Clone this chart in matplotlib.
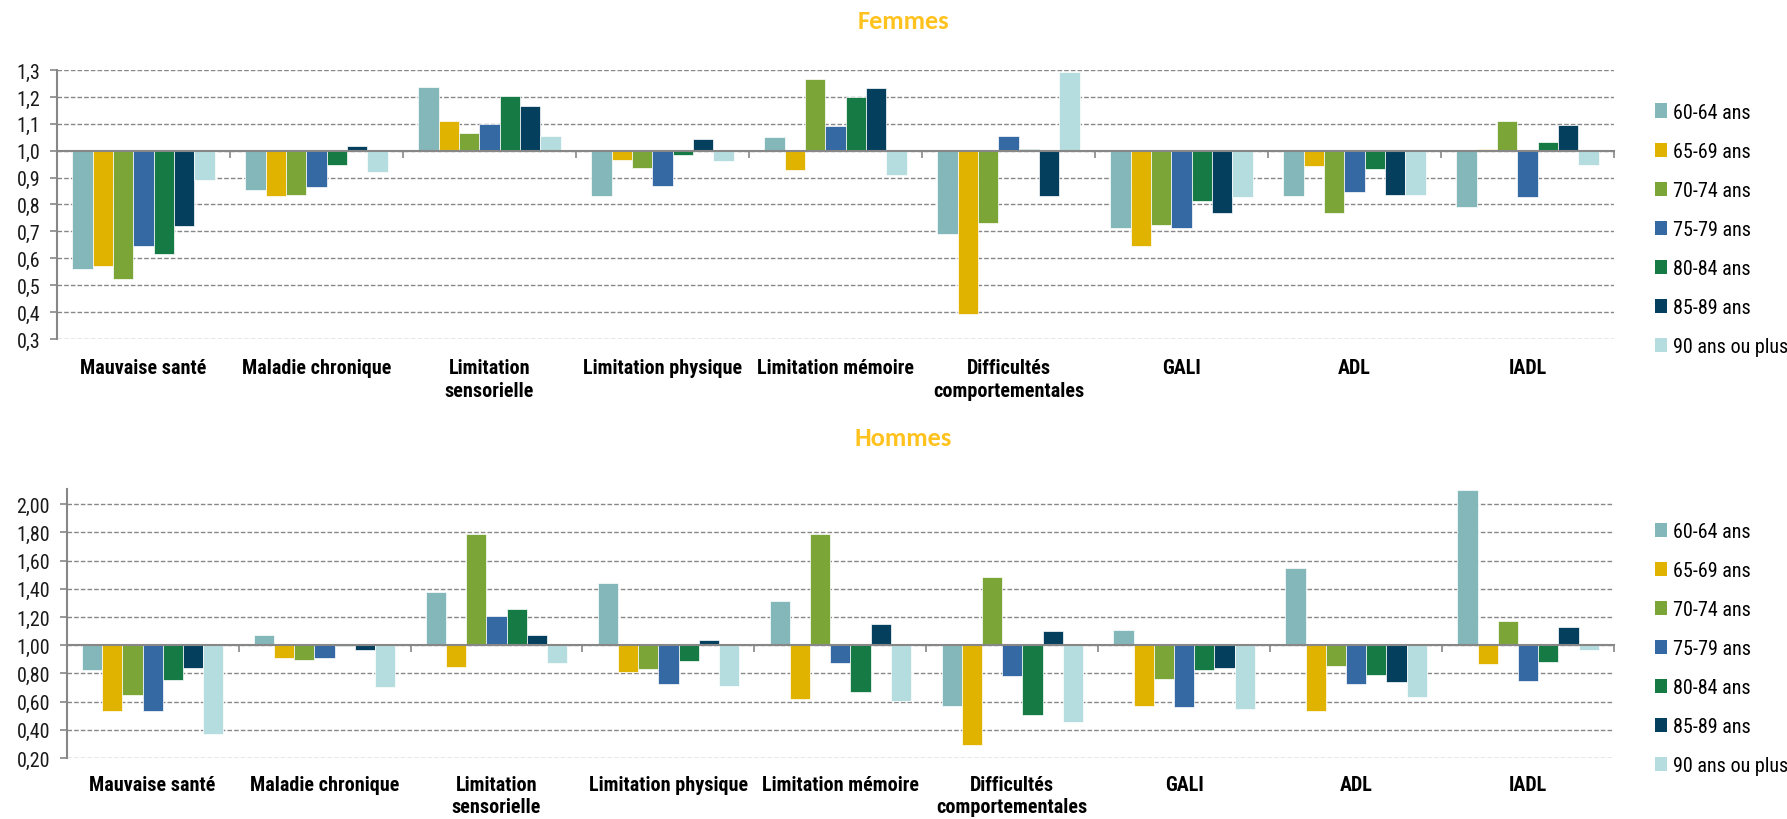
import numpy as np
import matplotlib.pyplot as plt
from matplotlib.patches import Patch
from matplotlib.ticker import FuncFormatter
from matplotlib import transforms

plt.rcParams['font.family'] = ['Roboto Condensed', 'Liberation Sans', 'DejaVu Sans']

categories = ['Mauvaise santé', 'Maladie chronique', 'Limitation\nsensorielle',
              'Limitation physique', 'Limitation mémoire', 'Difficultés\ncomportementales',
              'GALI', 'ADL', 'IADL']
ages = ['60-64 ans', '65-69 ans', '70-74 ans', '75-79 ans', '80-84 ans', '85-89 ans', '90 ans ou plus']
colors = ['#84b7ba', '#e0b300', '#7ba637', '#3569a3', '#167a45', '#04405e', '#b5dcde']

# one row per age group, one value per category
femmes = [
    [0.560, 0.854, 1.237, 0.832, 1.051, 0.689, 0.714, 0.832, 0.789],
    [0.570, 0.832, 1.110, 0.967, 0.928, 0.394, 0.644, 0.944, 1.006],
    [0.523, 0.834, 1.066, 0.937, 1.265, 0.730, 0.725, 0.767, 1.112],
    [0.647, 0.865, 1.099, 0.869, 1.091, 1.053, 0.711, 0.846, 0.829],
    [0.615, 0.946, 1.205, 0.984, 1.200, 1.006, 0.812, 0.931, 1.031],
    [0.719, 1.019, 1.165, 1.045, 1.232, 0.830, 0.767, 0.837, 1.096],
    [0.892, 0.922, 1.056, 0.960, 0.908, 1.293, 0.829, 0.834, 0.948],
]
hommes = [
    [0.823, 1.074, 1.380, 1.443, 1.314, 0.571, 1.109, 1.547, 2.103],
    [0.536, 0.907, 0.849, 0.811, 0.618, 0.294, 0.571, 0.536, 0.865],
    [0.649, 0.893, 1.791, 0.828, 1.791, 1.481, 0.757, 0.856, 1.171],
    [0.536, 0.912, 1.208, 0.722, 0.877, 0.783, 0.560, 0.727, 0.743],
    [0.752, 0.995, 1.255, 0.891, 0.670, 0.508, 0.823, 0.788, 0.882],
    [0.837, 0.964, 1.072, 1.039, 1.149, 1.100, 0.837, 0.736, 1.131],
    [0.369, 0.705, 0.877, 0.712, 0.602, 0.454, 0.550, 0.630, 0.966],
]

grey = '#878787'


def panel(ax, values, ylim, yticks, fmt, title, title_y, label_y):
    n = len(categories)
    x = np.arange(n)
    w = 0.1175
    ax.set_axisbelow(True)
    for i, serie in enumerate(values):
        h = np.array(serie) - 1.0
        ax.bar(x + (i - 3) * w, h, width=w, bottom=1.0, color=colors[i],
               edgecolor='white', linewidth=0.5)

    ax.set_xlim(-0.5, n - 0.5)
    ax.set_ylim(*ylim)
    ax.set_yticks(yticks)
    ax.yaxis.set_major_formatter(FuncFormatter(lambda v, p: fmt.format(v).replace('.', ',')))
    ax.yaxis.grid(True, color=grey, linewidth=1.0, linestyle=(0, (3.3, 1.5)))

    for s in ['top', 'right']:
        ax.spines[s].set_visible(False)
    ax.spines['left'].set_color(grey)
    ax.spines['left'].set_linewidth(1.5)
    ax.spines['bottom'].set_position(('data', 1.0))
    ax.spines['bottom'].set_color(grey)
    ax.spines['bottom'].set_linewidth(1.5)
    ax.spines['bottom'].set_zorder(3)

    ax.set_xticks(np.arange(n) + 0.5)
    ax.set_xticklabels([])
    ax.tick_params(axis='x', direction='out', length=5, color=grey, width=1.2)
    ax.tick_params(axis='y', direction='out', length=5, color=grey, width=1.2,
                   labelsize=14.5, labelcolor='#1a1a1a', pad=7)

    trans = transforms.blended_transform_factory(ax.transData, ax.transAxes)
    for i, c in enumerate(categories):
        ax.text(i, label_y, c, transform=trans, ha='center', va='top',
                fontsize=14.5, fontweight='bold', linespacing=1.22)

    handles = [Patch(facecolor=colors[i], label=ages[i]) for i in range(len(ages))]
    ax.legend(handles=handles, loc='center left', bbox_to_anchor=(1.021, 0.407),
              frameon=False, fontsize=14.5, labelspacing=1.0, handlelength=0.62,
              handleheight=0.7, handletextpad=0.3, borderaxespad=0)

    fig.text(0.5055, title_y, title, ha='center', va='center', fontsize=19,
             fontweight='bold', color='#ffc21f', family=['Carlito', 'Lato', 'DejaVu Sans'])


fig = plt.figure(figsize=(17.87, 8.2), dpi=100)

ax1 = fig.add_axes([0.0319, 0.5854, 0.8713, 0.3280])
panel(ax1, femmes, (0.3, 1.3), np.arange(0.3, 1.31, 0.1), '{:.1f}', 'Femmes', 0.974, -0.072)

ax2 = fig.add_axes([0.0373, 0.0744, 0.8659, 0.3280])
panel(ax2, hommes, (0.2, 2.108), np.arange(0.2, 2.01, 0.2), '{:.2f}', 'Hommes', 0.465, -0.062)

fig.savefig('out.png', dpi=100, facecolor='white')
